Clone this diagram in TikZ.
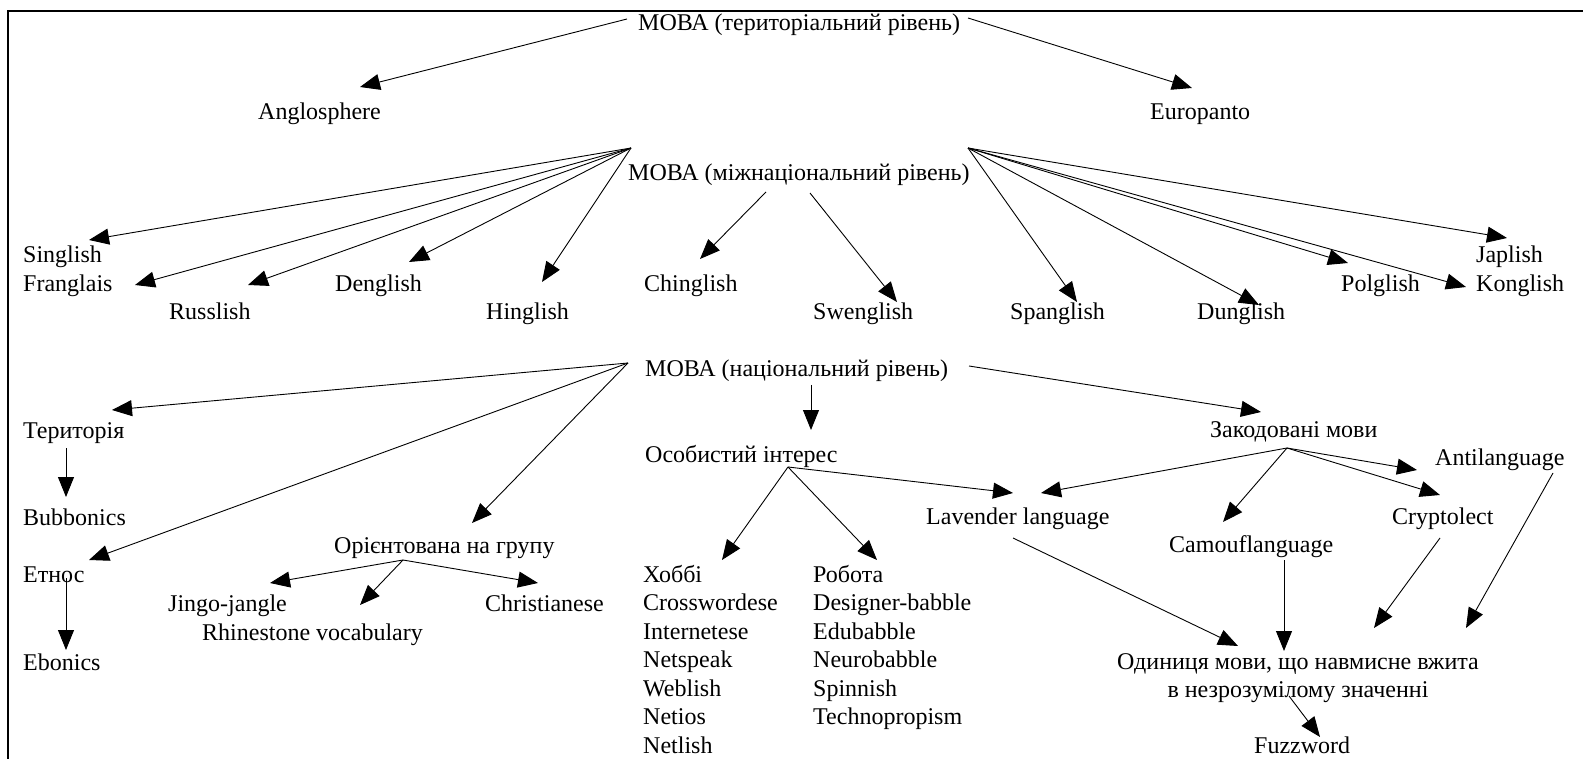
\documentclass[tikz,border=0pt]{standalone}
\usepackage{fontspec}
\setmainfont{Liberation Serif}
\usetikzlibrary{arrows.meta}

\begin{document}
\begin{tikzpicture}[
  x=1pt, y=-1pt,
  lbl/.style={
    inner sep=0pt,
    anchor=base west,
    font=\fontsize{24}{28.5}\selectfont
  },
  lst/.style={lbl, align=left, anchor=north west},
  arr/.style={-{Triangle[length=20pt, width=16pt]}, line width=0.9pt}
]
\useasboundingbox (0,0) rectangle (1583,759);
\draw[line width=2.7pt] (8,775) -- (8,11) -- (1600,11);

\node[lbl] (t1) at (638,31) {МОВА (територіальний рівень)};
\node[lbl] (anglo) at (258,120) {Anglosphere};
\node[lbl] (euro) at (1150,120) {Europanto};

\node[lbl] (m2) at (628,181) {МОВА (міжнаціональний рівень)};
\node[lbl] (singl) at (23,263) {Singlish};
\node[lbl] (frang) at (23,292) {Franglais};
\node[lbl] (russl) at (169,320) {Russlish};
\node[lbl] (dengl) at (335,292) {Denglish};
\node[lbl] (hingl) at (486,320) {Hinglish};
\node[lbl] (chingl) at (644,292) {Chinglish};
\node[lbl] (swengl) at (813,320) {Swenglish};
\node[lbl] (spangl) at (1010,320) {Spanglish};
\node[lbl] (dungl) at (1197,320) {Dunglish};
\node[lbl] (polgl) at (1341,292) {Polglish};
\node[lbl] (kongl) at (1476,292) {Konglish};
\node[lbl] (japl) at (1476,263) {Japlish};

\node[lbl] (m3) at (645,377) {МОВА (національний рівень)};
\node[lbl] (terr) at (23,438) {Територія};
\node[lbl] (bubb) at (23,525) {Bubbonics};
\node[lbl] (ethn) at (23,582) {Етнос};
\node[lbl] (ebon) at (23,670) {Ebonics};
\node[lbl] (grp) at (334,553) {Орієнтована на групу};
\node[lbl] (jingo) at (168,611) {Jingo-jangle};
\node[lbl] (rhine) at (202,640) {Rhinestone vocabulary};
\node[lbl] (christ) at (485,611) {Christianese};
\node[lbl] (pers) at (645,462) {Особистий інтерес};
\node[lst] (hobby) at (643,565) {Хоббі\\Crosswordese\\Internetese\\Netspeak\\Weblish\\Netios\\Netlish};
\node[lst] (work) at (813,565) {Робота\\Designer-babble\\Edubabble\\Neurobabble\\Spinnish\\Technopropism};
\node[lbl] (coded) at (1210,437) {Закодовані мови};
\node[lbl] (anti) at (1435,465) {Antilanguage};
\node[lbl] (laven) at (926,524) {Lavender language};
\node[lbl] (crypt) at (1392,524) {Cryptolect};
\node[lbl] (camou) at (1169,552) {Camouflanguage};
\node[lbl, align=center, anchor=north] (unit) at (1298,653) {Одиниця мови, що навмисне вжита\\в незрозумілому значенні};
\node[lbl] (fuzz) at (1254,753) {Fuzzword};

\draw[arr] ([shift={(-11,-12)}]t1.base west) -- ([shift={(102,-33)}]anglo.base west);
\draw[arr] ([shift={(330,-13)}]t1.base west) -- ([shift={(42,-32)}]euro.base west);

\coordinate (m2l) at ([shift={(3,-33)}]m2.base west);
\coordinate (m2r) at ([shift={(340,-33)}]m2.base west);
\draw[arr] (m2l) -- ([shift={(66,-23)}]singl.base west);
\draw[arr] (m2l) -- ([shift={(112,-7)}]frang.base west);
\draw[arr] (m2l) -- ([shift={(79,-35)}]russl.base west);
\draw[arr] (m2l) -- ([shift={(74,-30)}]dengl.base west);
\draw[arr] (m2l) -- ([shift={(56,-38)}]hingl.base west);
\draw[arr] ([shift={(138,11)}]m2.base west) -- ([shift={(56,-33)}]chingl.base west);
\draw[arr] ([shift={(182,12)}]m2.base west) -- ([shift={(84,-18)}]swengl.base west);
\draw[arr] (m2r) -- ([shift={(67,-18)}]spangl.base west);
\draw[arr] (m2r) -- ([shift={(62,-15)}]dungl.base west);
\draw[arr] (m2r) -- ([shift={(7,-29)}]polgl.base west);
\draw[arr] (m2r) -- ([shift={(-10,-5)}]kongl.base west);
\draw[arr] (m2r) -- ([shift={(31,-25)}]japl.base west);

\coordinate (m3l) at ([shift={(-17,-14)}]m3.base west);
\draw[arr] (m3l) -- ([shift={(89,-28)}]terr.base west);
\draw[arr] (m3l) -- ([shift={(66,-22)}]ethn.base west);
\draw[arr] (m3l) -- ([shift={(138,-30)}]grp.base west);
\draw[arr] ([shift={(166,8)}]m3.base west) -- ([shift={(166,-32)}]pers.base west);
\draw[arr] ([shift={(324,-11)}]m3.base west) -- ([shift={(51,-25)}]coded.base west);
\draw[arr] ([shift={(43,10)}]terr.base west) -- ([shift={(43,-28)}]bubb.base west);
\draw[arr] ([shift={(43,-4)}]ethn.base west) -- ([shift={(43,-20)}]ebon.base west);

\coordinate (grpc) at ([shift={(69,7)}]grp.base west);
\draw[arr] (grpc) -- ([shift={(102,-28)}]jingo.base west);
\draw[arr] (grpc) -- ([shift={(158,-35)}]rhine.base west);
\draw[arr] (grpc) -- ([shift={(53,-28)}]christ.base west);

\coordinate (persc) at ([shift={(143,5)}]pers.base west);
\draw[arr] (persc) -- ([shift={(79,-5)}]hobby.north west);
\draw[arr] (persc) -- ([shift={(64,-5)}]work.north west);
\draw[arr] (persc) -- ([shift={(87,-31)}]laven.base west);

\coordinate (codedc) at ([shift={(77,11)}]coded.base west);
\draw[arr] (codedc) -- ([shift={(115,-31)}]laven.base west);
\draw[arr] (codedc) -- ([shift={(54,-30)}]camou.base west);
\draw[arr] (codedc) -- ([shift={(-18,5)}]anti.base west);
\draw[arr] (codedc) -- ([shift={(48,-29)}]crypt.base west);

\draw[arr] ([shift={(87,14)}]laven.base west) -- ([shift={(-60,-7)}]unit.north);
\draw[arr] ([shift={(115,8)}]camou.base west) -- ([shift={(-14,-2)}]unit.north);
\draw[arr] ([shift={(48,14)}]crypt.base west) -- ([shift={(76,-25)}]unit.north);
\draw[arr] ([shift={(118,8)}]anti.base west) -- ([shift={(168,-25)}]unit.north);
\draw[arr] ([shift={(-9,43)}]unit.north) -- ([shift={(66,-16)}]fuzz.base west);
\end{tikzpicture}
\end{document}
